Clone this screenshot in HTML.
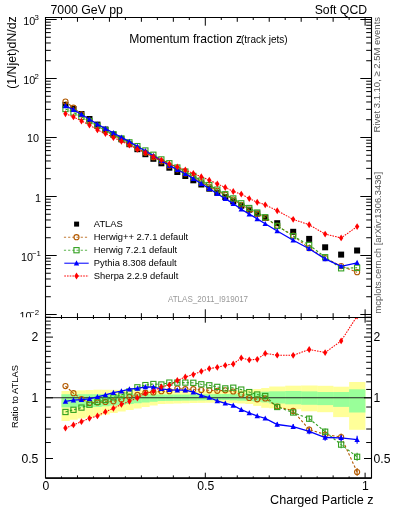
<!DOCTYPE html><html><head><meta charset="utf-8"><style>html,body{margin:0;padding:0;background:#fff;width:393px;height:512px;overflow:hidden}svg{display:block;will-change:transform}text{font-family:"Liberation Sans",sans-serif}</style></head><body>
<svg width="393" height="512" viewBox="0 0 393 512">
<defs><clipPath id="ct"><rect x="45.5" y="17.5" width="326.0" height="300.0"/></clipPath><clipPath id="cr"><rect x="45.5" y="317.5" width="326.0" height="160.39999999999998"/></clipPath></defs>
<rect x="61.48" y="391" width="8.29" height="30" fill="#ffff99"/>
<rect x="69.47" y="390.68" width="8.29" height="29.07" fill="#ffff99"/>
<rect x="77.46" y="390.35" width="8.29" height="28.15" fill="#ffff99"/>
<rect x="85.45" y="390.02" width="8.29" height="27.23" fill="#ffff99"/>
<rect x="93.44" y="389.7" width="8.29" height="26.3" fill="#ffff99"/>
<rect x="101.43" y="389.77" width="8.29" height="24.73" fill="#ffff99"/>
<rect x="109.42" y="389.85" width="8.29" height="23.15" fill="#ffff99"/>
<rect x="117.41" y="389.93" width="8.29" height="21.57" fill="#ffff99"/>
<rect x="125.4" y="390" width="8.29" height="20" fill="#ffff99"/>
<rect x="133.39" y="390.25" width="8.29" height="18.25" fill="#ffff99"/>
<rect x="141.38" y="390.5" width="8.29" height="16.5" fill="#ffff99"/>
<rect x="149.37" y="390.75" width="8.29" height="14.75" fill="#ffff99"/>
<rect x="157.36" y="391" width="8.29" height="13" fill="#ffff99"/>
<rect x="165.35" y="391" width="8.29" height="12.75" fill="#ffff99"/>
<rect x="173.34" y="391" width="8.29" height="12.5" fill="#ffff99"/>
<rect x="181.33" y="391" width="8.29" height="12.25" fill="#ffff99"/>
<rect x="189.32" y="391" width="8.29" height="12" fill="#ffff99"/>
<rect x="197.31" y="391" width="8.29" height="11.88" fill="#ffff99"/>
<rect x="205.3" y="391" width="8.29" height="11.75" fill="#ffff99"/>
<rect x="213.29" y="391" width="8.29" height="11.62" fill="#ffff99"/>
<rect x="221.28" y="391" width="8.29" height="11.5" fill="#ffff99"/>
<rect x="229.27" y="390.67" width="8.29" height="12.33" fill="#ffff99"/>
<rect x="237.26" y="390.33" width="8.29" height="13.17" fill="#ffff99"/>
<rect x="245.25" y="390" width="8.29" height="14" fill="#ffff99"/>
<rect x="253.24" y="389" width="8.29" height="16.9" fill="#ffff99"/>
<rect x="261.23" y="388" width="8.29" height="19.8" fill="#ffff99"/>
<rect x="269.22" y="386.5" width="16.28" height="21.8" fill="#ffff99"/>
<rect x="285.2" y="385.7" width="16.28" height="23.6" fill="#ffff99"/>
<rect x="301.18" y="385.5" width="16.28" height="25.8" fill="#ffff99"/>
<rect x="317.16" y="385.8" width="16.28" height="26.4" fill="#ffff99"/>
<rect x="333.14" y="386.7" width="16.28" height="30.4" fill="#ffff99"/>
<rect x="349.12" y="382" width="16.28" height="47.8" fill="#ffff99"/>
<rect x="61.48" y="394.2" width="8.29" height="13.2" fill="#99ff99"/>
<rect x="69.47" y="394.2" width="8.29" height="13.1" fill="#99ff99"/>
<rect x="77.46" y="394.2" width="8.29" height="13" fill="#99ff99"/>
<rect x="85.45" y="394.2" width="8.29" height="12.9" fill="#99ff99"/>
<rect x="93.44" y="394.2" width="8.29" height="12.8" fill="#99ff99"/>
<rect x="101.43" y="394.15" width="8.29" height="12.1" fill="#99ff99"/>
<rect x="109.42" y="394.1" width="8.29" height="11.4" fill="#99ff99"/>
<rect x="117.41" y="394.05" width="8.29" height="10.7" fill="#99ff99"/>
<rect x="125.4" y="394" width="8.29" height="10" fill="#99ff99"/>
<rect x="133.39" y="394.12" width="8.29" height="9.12" fill="#99ff99"/>
<rect x="141.38" y="394.25" width="8.29" height="8.25" fill="#99ff99"/>
<rect x="149.37" y="394.38" width="8.29" height="7.38" fill="#99ff99"/>
<rect x="157.36" y="394.5" width="8.29" height="6.5" fill="#99ff99"/>
<rect x="165.35" y="394.5" width="8.29" height="6.38" fill="#99ff99"/>
<rect x="173.34" y="394.5" width="8.29" height="6.25" fill="#99ff99"/>
<rect x="181.33" y="394.5" width="8.29" height="6.12" fill="#99ff99"/>
<rect x="189.32" y="394.5" width="8.29" height="6" fill="#99ff99"/>
<rect x="197.31" y="394.38" width="8.29" height="6" fill="#99ff99"/>
<rect x="205.3" y="394.25" width="8.29" height="6" fill="#99ff99"/>
<rect x="213.29" y="394.12" width="8.29" height="6" fill="#99ff99"/>
<rect x="221.28" y="394" width="8.29" height="6" fill="#99ff99"/>
<rect x="229.27" y="393.83" width="8.29" height="6.5" fill="#99ff99"/>
<rect x="237.26" y="393.67" width="8.29" height="7" fill="#99ff99"/>
<rect x="245.25" y="393.5" width="8.29" height="7.5" fill="#99ff99"/>
<rect x="253.24" y="392.6" width="8.29" height="9.1" fill="#99ff99"/>
<rect x="261.23" y="391.7" width="8.29" height="10.7" fill="#99ff99"/>
<rect x="269.22" y="391.3" width="16.28" height="12.2" fill="#99ff99"/>
<rect x="285.2" y="391" width="16.28" height="13.3" fill="#99ff99"/>
<rect x="301.18" y="391.4" width="16.28" height="13.4" fill="#99ff99"/>
<rect x="317.16" y="392" width="16.28" height="13.1" fill="#99ff99"/>
<rect x="333.14" y="392" width="16.28" height="14.9" fill="#99ff99"/>
<rect x="349.12" y="389.3" width="16.28" height="23.2" fill="#99ff99"/>
<line x1="45.5" y1="397.8" x2="371.5" y2="397.8" stroke="#222" stroke-width="1.1"/>
<g clip-path="url(#ct)">
<g><rect x="62.47" y="101.9" width="6" height="6" fill="#000"/><rect x="70.47" y="106" width="6" height="6" fill="#000"/><rect x="78.46" y="111" width="6" height="6" fill="#000"/><rect x="86.45" y="116" width="6" height="6" fill="#000"/><rect x="94.44" y="121.6" width="6" height="6" fill="#000"/><rect x="102.43" y="126.5" width="6" height="6" fill="#000"/><rect x="110.42" y="131.5" width="6" height="6" fill="#000"/><rect x="118.41" y="136.3" width="6" height="6" fill="#000"/><rect x="126.4" y="141.2" width="6" height="6" fill="#000"/><rect x="134.38" y="146.2" width="6" height="6" fill="#000"/><rect x="142.38" y="151.2" width="6" height="6" fill="#000"/><rect x="150.37" y="155.8" width="6" height="6" fill="#000"/><rect x="158.36" y="160.3" width="6" height="6" fill="#000"/><rect x="166.35" y="164.7" width="6" height="6" fill="#000"/><rect x="174.34" y="169" width="6" height="6" fill="#000"/><rect x="182.33" y="173" width="6" height="6" fill="#000"/><rect x="190.32" y="177.3" width="6" height="6" fill="#000"/><rect x="198.31" y="181.5" width="6" height="6" fill="#000"/><rect x="206.29" y="185.7" width="6" height="6" fill="#000"/><rect x="214.29" y="189.8" width="6" height="6" fill="#000"/><rect x="222.28" y="194" width="6" height="6" fill="#000"/><rect x="230.27" y="198.4" width="6" height="6" fill="#000"/><rect x="238.26" y="202.7" width="6" height="6" fill="#000"/><rect x="246.25" y="206.7" width="6" height="6" fill="#000"/><rect x="254.24" y="210.5" width="6" height="6" fill="#000"/><rect x="262.23" y="214.8" width="6" height="6" fill="#000"/><rect x="274.21" y="220.2" width="6" height="6" fill="#000"/><rect x="290.19" y="228.8" width="6" height="6" fill="#000"/><rect x="306.17" y="235.9" width="6" height="6" fill="#000"/><rect x="322.15" y="244.3" width="6" height="6" fill="#000"/><rect x="338.13" y="251.6" width="6" height="6" fill="#000"/><rect x="354.11" y="247.5" width="6" height="6" fill="#000"/></g>
<polyline points="65.47,101.48 73.47,107.65 81.46,114.35 89.45,120.49 97.44,125.98 105.43,130.7 113.42,135.52 121.41,139.77 129.4,143.94 137.38,148.35 145.38,152.71 153.37,157.22 161.36,161.37 169.35,165.77 177.34,169.28 185.33,173.48 193.32,177.78 201.31,182.22 209.29,186.51 217.29,190.75 225.28,194.81 233.27,199.56 241.26,204.73 249.25,209.76 257.24,213.94 265.23,217.98 277.21,225.75 293.19,235.63 309.17,248.2 325.15,258.04 341.13,266.07 357.11,272.21" fill="none" stroke="#b35a00" stroke-width="1.1" stroke-dasharray="2.5,2"/>
<circle cx="65.47" cy="101.48" r="2.55" fill="none" stroke="#b35a00" stroke-width="1.1"/><circle cx="73.47" cy="107.65" r="2.55" fill="none" stroke="#b35a00" stroke-width="1.1"/><circle cx="81.46" cy="114.35" r="2.55" fill="none" stroke="#b35a00" stroke-width="1.1"/><circle cx="89.45" cy="120.49" r="2.55" fill="none" stroke="#b35a00" stroke-width="1.1"/><circle cx="97.44" cy="125.98" r="2.55" fill="none" stroke="#b35a00" stroke-width="1.1"/><circle cx="105.43" cy="130.7" r="2.55" fill="none" stroke="#b35a00" stroke-width="1.1"/><circle cx="113.42" cy="135.52" r="2.55" fill="none" stroke="#b35a00" stroke-width="1.1"/><circle cx="121.41" cy="139.77" r="2.55" fill="none" stroke="#b35a00" stroke-width="1.1"/><circle cx="129.4" cy="143.94" r="2.55" fill="none" stroke="#b35a00" stroke-width="1.1"/><circle cx="137.38" cy="148.35" r="2.55" fill="none" stroke="#b35a00" stroke-width="1.1"/><circle cx="145.38" cy="152.71" r="2.55" fill="none" stroke="#b35a00" stroke-width="1.1"/><circle cx="153.37" cy="157.22" r="2.55" fill="none" stroke="#b35a00" stroke-width="1.1"/><circle cx="161.36" cy="161.37" r="2.55" fill="none" stroke="#b35a00" stroke-width="1.1"/><circle cx="169.35" cy="165.77" r="2.55" fill="none" stroke="#b35a00" stroke-width="1.1"/><circle cx="177.34" cy="169.28" r="2.55" fill="none" stroke="#b35a00" stroke-width="1.1"/><circle cx="185.33" cy="173.48" r="2.55" fill="none" stroke="#b35a00" stroke-width="1.1"/><circle cx="193.32" cy="177.78" r="2.55" fill="none" stroke="#b35a00" stroke-width="1.1"/><circle cx="201.31" cy="182.22" r="2.55" fill="none" stroke="#b35a00" stroke-width="1.1"/><circle cx="209.29" cy="186.51" r="2.55" fill="none" stroke="#b35a00" stroke-width="1.1"/><circle cx="217.29" cy="190.75" r="2.55" fill="none" stroke="#b35a00" stroke-width="1.1"/><circle cx="225.28" cy="194.81" r="2.55" fill="none" stroke="#b35a00" stroke-width="1.1"/><circle cx="233.27" cy="199.56" r="2.55" fill="none" stroke="#b35a00" stroke-width="1.1"/><circle cx="241.26" cy="204.73" r="2.55" fill="none" stroke="#b35a00" stroke-width="1.1"/><circle cx="249.25" cy="209.76" r="2.55" fill="none" stroke="#b35a00" stroke-width="1.1"/><circle cx="257.24" cy="213.94" r="2.55" fill="none" stroke="#b35a00" stroke-width="1.1"/><circle cx="265.23" cy="217.98" r="2.55" fill="none" stroke="#b35a00" stroke-width="1.1"/><circle cx="277.21" cy="225.75" r="2.55" fill="none" stroke="#b35a00" stroke-width="1.1"/><circle cx="293.19" cy="235.63" r="2.55" fill="none" stroke="#b35a00" stroke-width="1.1"/><circle cx="309.17" cy="248.2" r="2.55" fill="none" stroke="#b35a00" stroke-width="1.1"/><circle cx="325.15" cy="258.04" r="2.55" fill="none" stroke="#b35a00" stroke-width="1.1"/><circle cx="341.13" cy="266.07" r="2.55" fill="none" stroke="#b35a00" stroke-width="1.1"/><circle cx="357.11" cy="272.21" r="2.55" fill="none" stroke="#b35a00" stroke-width="1.1"/>
<polyline points="65.47,109.05 73.47,112.51 81.46,116.87 89.45,121.02 97.44,125.8 105.43,130.14 113.42,134.38 121.41,138.45 129.4,142.36 137.38,146.13 145.38,150.48 153.37,154.76 161.36,159.41 169.35,163.25 177.34,167.55 185.33,171.55 193.32,175.91 201.31,180.55 209.29,185.04 217.29,189.61 225.28,194.25 233.27,198.44 241.26,203.3 249.25,208.03 257.24,212.53 265.23,217.27 277.21,225.89 293.19,236.1 309.17,245.02 325.15,257.22 341.13,268.29 357.11,267.76" fill="none" stroke="#33a020" stroke-width="1.1" stroke-dasharray="2.5,2"/>
<rect x="62.87" y="106.45" width="5.2" height="5.2" fill="none" stroke="#33a020" stroke-width="1.1"/><rect x="70.87" y="109.91" width="5.2" height="5.2" fill="none" stroke="#33a020" stroke-width="1.1"/><rect x="78.86" y="114.27" width="5.2" height="5.2" fill="none" stroke="#33a020" stroke-width="1.1"/><rect x="86.85" y="118.42" width="5.2" height="5.2" fill="none" stroke="#33a020" stroke-width="1.1"/><rect x="94.84" y="123.2" width="5.2" height="5.2" fill="none" stroke="#33a020" stroke-width="1.1"/><rect x="102.83" y="127.54" width="5.2" height="5.2" fill="none" stroke="#33a020" stroke-width="1.1"/><rect x="110.82" y="131.78" width="5.2" height="5.2" fill="none" stroke="#33a020" stroke-width="1.1"/><rect x="118.81" y="135.85" width="5.2" height="5.2" fill="none" stroke="#33a020" stroke-width="1.1"/><rect x="126.8" y="139.76" width="5.2" height="5.2" fill="none" stroke="#33a020" stroke-width="1.1"/><rect x="134.78" y="143.53" width="5.2" height="5.2" fill="none" stroke="#33a020" stroke-width="1.1"/><rect x="142.78" y="147.88" width="5.2" height="5.2" fill="none" stroke="#33a020" stroke-width="1.1"/><rect x="150.77" y="152.16" width="5.2" height="5.2" fill="none" stroke="#33a020" stroke-width="1.1"/><rect x="158.76" y="156.81" width="5.2" height="5.2" fill="none" stroke="#33a020" stroke-width="1.1"/><rect x="166.75" y="160.65" width="5.2" height="5.2" fill="none" stroke="#33a020" stroke-width="1.1"/><rect x="174.74" y="164.95" width="5.2" height="5.2" fill="none" stroke="#33a020" stroke-width="1.1"/><rect x="182.73" y="168.95" width="5.2" height="5.2" fill="none" stroke="#33a020" stroke-width="1.1"/><rect x="190.72" y="173.31" width="5.2" height="5.2" fill="none" stroke="#33a020" stroke-width="1.1"/><rect x="198.71" y="177.95" width="5.2" height="5.2" fill="none" stroke="#33a020" stroke-width="1.1"/><rect x="206.69" y="182.44" width="5.2" height="5.2" fill="none" stroke="#33a020" stroke-width="1.1"/><rect x="214.69" y="187.01" width="5.2" height="5.2" fill="none" stroke="#33a020" stroke-width="1.1"/><rect x="222.68" y="191.65" width="5.2" height="5.2" fill="none" stroke="#33a020" stroke-width="1.1"/><rect x="230.67" y="195.84" width="5.2" height="5.2" fill="none" stroke="#33a020" stroke-width="1.1"/><rect x="238.66" y="200.7" width="5.2" height="5.2" fill="none" stroke="#33a020" stroke-width="1.1"/><rect x="246.65" y="205.43" width="5.2" height="5.2" fill="none" stroke="#33a020" stroke-width="1.1"/><rect x="254.64" y="209.93" width="5.2" height="5.2" fill="none" stroke="#33a020" stroke-width="1.1"/><rect x="262.62" y="214.67" width="5.2" height="5.2" fill="none" stroke="#33a020" stroke-width="1.1"/><rect x="274.61" y="223.29" width="5.2" height="5.2" fill="none" stroke="#33a020" stroke-width="1.1"/><rect x="290.59" y="233.5" width="5.2" height="5.2" fill="none" stroke="#33a020" stroke-width="1.1"/><rect x="306.57" y="242.42" width="5.2" height="5.2" fill="none" stroke="#33a020" stroke-width="1.1"/><rect x="322.55" y="254.62" width="5.2" height="5.2" fill="none" stroke="#33a020" stroke-width="1.1"/><rect x="338.53" y="265.69" width="5.2" height="5.2" fill="none" stroke="#33a020" stroke-width="1.1"/><rect x="354.51" y="265.16" width="5.2" height="5.2" fill="none" stroke="#33a020" stroke-width="1.1"/>
<polyline points="65.47,105.95 73.47,109.7 81.46,114.53 89.45,119.29 97.44,124.31 105.43,128.65 113.42,133.01 121.41,137.34 129.4,141.68 137.38,146.45 145.38,151.01 153.37,155.7 161.36,160.67 169.35,165.36 177.34,169.78 185.33,173.78 193.32,178.66 201.31,183.8 209.29,188.61 217.29,193.71 225.28,198.61 233.27,203.62 241.26,209.18 249.25,214.15 257.24,218.83 265.23,223.8 277.21,231.01 293.19,240.23 309.17,248.7 325.15,258.92 341.13,266.3 357.11,262.76" fill="none" stroke="#0000ff" stroke-width="1.3"/>
<path d="M62.77,108.25L68.17,108.25L65.47,103.05Z" fill="#0000ff"/><path d="M70.77,112L76.17,112L73.47,106.8Z" fill="#0000ff"/><path d="M78.76,116.83L84.16,116.83L81.46,111.63Z" fill="#0000ff"/><path d="M86.75,121.59L92.15,121.59L89.45,116.39Z" fill="#0000ff"/><path d="M94.73,126.61L100.14,126.61L97.44,121.41Z" fill="#0000ff"/><path d="M102.73,130.95L108.13,130.95L105.43,125.75Z" fill="#0000ff"/><path d="M110.72,135.31L116.12,135.31L113.42,130.11Z" fill="#0000ff"/><path d="M118.71,139.64L124.11,139.64L121.41,134.44Z" fill="#0000ff"/><path d="M126.7,143.98L132.09,143.98L129.4,138.78Z" fill="#0000ff"/><path d="M134.69,148.75L140.08,148.75L137.38,143.55Z" fill="#0000ff"/><path d="M142.68,153.31L148.07,153.31L145.38,148.11Z" fill="#0000ff"/><path d="M150.67,158L156.06,158L153.37,152.8Z" fill="#0000ff"/><path d="M158.66,162.97L164.06,162.97L161.36,157.77Z" fill="#0000ff"/><path d="M166.65,167.66L172.05,167.66L169.35,162.46Z" fill="#0000ff"/><path d="M174.64,172.08L180.03,172.08L177.34,166.88Z" fill="#0000ff"/><path d="M182.63,176.08L188.03,176.08L185.33,170.88Z" fill="#0000ff"/><path d="M190.62,180.96L196.02,180.96L193.32,175.76Z" fill="#0000ff"/><path d="M198.61,186.1L204.01,186.1L201.31,180.9Z" fill="#0000ff"/><path d="M206.59,190.91L211.99,190.91L209.29,185.71Z" fill="#0000ff"/><path d="M214.59,196.01L219.99,196.01L217.29,190.81Z" fill="#0000ff"/><path d="M222.58,200.91L227.97,200.91L225.28,195.71Z" fill="#0000ff"/><path d="M230.57,205.92L235.97,205.92L233.27,200.72Z" fill="#0000ff"/><path d="M238.56,211.48L243.96,211.48L241.26,206.28Z" fill="#0000ff"/><path d="M246.55,216.45L251.95,216.45L249.25,211.25Z" fill="#0000ff"/><path d="M254.54,221.13L259.94,221.13L257.24,215.93Z" fill="#0000ff"/><path d="M262.53,226.1L267.93,226.1L265.23,220.9Z" fill="#0000ff"/><path d="M274.51,233.31L279.91,233.31L277.21,228.11Z" fill="#0000ff"/><path d="M290.49,242.53L295.89,242.53L293.19,237.33Z" fill="#0000ff"/><path d="M306.47,251L311.87,251L309.17,245.8Z" fill="#0000ff"/><path d="M322.45,261.22L327.85,261.22L325.15,256.02Z" fill="#0000ff"/><path d="M338.43,268.6L343.83,268.6L341.13,263.4Z" fill="#0000ff"/><path d="M354.41,265.06L359.81,265.06L357.11,259.86Z" fill="#0000ff"/>
<polyline points="65.47,113.74 73.47,116.93 81.46,120.99 89.45,125 97.44,129.9 105.43,133.6 113.42,137.57 121.41,141.23 129.4,145.22 137.38,149.26 145.38,152.85 153.37,156.93 161.36,160.08 169.35,163.98 177.34,166.94 185.33,169.91 193.32,173.51 201.31,176.75 209.29,180.16 217.29,183.88 225.28,187.49 233.27,191.51 241.26,194.03 249.25,198.61 257.24,202.23 265.23,204.81 277.21,210.74 293.19,219.36 309.17,224.77 325.15,234.07 341.13,237.95 357.11,226.59" fill="none" stroke="#ff0000" stroke-width="1.05" stroke-dasharray="1.6,1.1"/>
<path d="M65.47,110.34L67.67,113.74L65.47,117.14L63.27,113.74Z" fill="#ff0000"/><path d="M73.47,113.53L75.67,116.93L73.47,120.33L71.27,116.93Z" fill="#ff0000"/><path d="M81.46,117.59L83.66,120.99L81.46,124.39L79.26,120.99Z" fill="#ff0000"/><path d="M89.45,121.6L91.65,125L89.45,128.4L87.25,125Z" fill="#ff0000"/><path d="M97.44,126.5L99.64,129.9L97.44,133.3L95.23,129.9Z" fill="#ff0000"/><path d="M105.43,130.2L107.63,133.6L105.43,137L103.23,133.6Z" fill="#ff0000"/><path d="M113.42,134.17L115.62,137.57L113.42,140.97L111.22,137.57Z" fill="#ff0000"/><path d="M121.41,137.83L123.61,141.23L121.41,144.63L119.21,141.23Z" fill="#ff0000"/><path d="M129.4,141.82L131.59,145.22L129.4,148.62L127.2,145.22Z" fill="#ff0000"/><path d="M137.38,145.86L139.58,149.26L137.38,152.66L135.19,149.26Z" fill="#ff0000"/><path d="M145.38,149.45L147.57,152.85L145.38,156.25L143.18,152.85Z" fill="#ff0000"/><path d="M153.37,153.53L155.56,156.93L153.37,160.33L151.17,156.93Z" fill="#ff0000"/><path d="M161.36,156.68L163.56,160.08L161.36,163.48L159.16,160.08Z" fill="#ff0000"/><path d="M169.35,160.58L171.55,163.98L169.35,167.38L167.15,163.98Z" fill="#ff0000"/><path d="M177.34,163.54L179.53,166.94L177.34,170.34L175.14,166.94Z" fill="#ff0000"/><path d="M185.33,166.51L187.53,169.91L185.33,173.31L183.13,169.91Z" fill="#ff0000"/><path d="M193.32,170.11L195.52,173.51L193.32,176.91L191.12,173.51Z" fill="#ff0000"/><path d="M201.31,173.35L203.51,176.75L201.31,180.15L199.11,176.75Z" fill="#ff0000"/><path d="M209.29,176.76L211.49,180.16L209.29,183.56L207.09,180.16Z" fill="#ff0000"/><path d="M217.29,180.48L219.49,183.88L217.29,187.28L215.09,183.88Z" fill="#ff0000"/><path d="M225.28,184.09L227.47,187.49L225.28,190.89L223.08,187.49Z" fill="#ff0000"/><path d="M233.27,188.11L235.47,191.51L233.27,194.91L231.07,191.51Z" fill="#ff0000"/><path d="M241.26,190.63L243.46,194.03L241.26,197.43L239.06,194.03Z" fill="#ff0000"/><path d="M249.25,195.21L251.45,198.61L249.25,202.01L247.05,198.61Z" fill="#ff0000"/><path d="M257.24,198.83L259.44,202.23L257.24,205.63L255.04,202.23Z" fill="#ff0000"/><path d="M265.23,201.41L267.43,204.81L265.23,208.21L263.03,204.81Z" fill="#ff0000"/><path d="M277.21,207.34L279.41,210.74L277.21,214.14L275.01,210.74Z" fill="#ff0000"/><path d="M293.19,215.96L295.39,219.36L293.19,222.76L290.99,219.36Z" fill="#ff0000"/><path d="M309.17,221.37L311.37,224.77L309.17,228.17L306.97,224.77Z" fill="#ff0000"/><path d="M325.15,230.67L327.35,234.07L325.15,237.47L322.95,234.07Z" fill="#ff0000"/><path d="M341.13,234.55L343.33,237.95L341.13,241.35L338.93,237.95Z" fill="#ff0000"/><path d="M357.11,223.19L359.31,226.59L357.11,229.99L354.91,226.59Z" fill="#ff0000"/>
</g>
<g clip-path="url(#cr)">
<path d="M277.21,404.3V408.7M293.19,408.4V413.4M309.17,426.6V432.6M325.15,431.2V437.8M341.13,433.4V440.6M357.11,468V476" stroke="#b35a00" stroke-width="1.1"/><path d="M277.21,404.8V409.2M293.19,410V415M309.17,415.7V421.7M325.15,428.4V435M341.13,441V448.2M357.11,452.8V460.8" stroke="#33a020" stroke-width="1.1"/><path d="M277.21,422.3V426.7M293.19,424.1V429.1M309.17,428.3V434.3M325.15,434.2V440.8M341.13,434.2V441.4M357.11,435.7V443.7" stroke="#0000ff" stroke-width="1.1"/>
<polyline points="65.47,386.1 73.47,393.2 81.46,399 89.45,402.9 97.44,402.5 105.43,401.9 113.42,401.3 121.41,399.4 129.4,396.9 137.38,394.9 145.38,392.7 153.37,392.4 161.36,391.2 169.35,391.2 177.34,388.5 185.33,389.2 193.32,389.2 201.31,390 209.29,390.3 217.29,390.8 225.28,390.3 233.27,391.5 241.26,394.5 249.25,398 257.24,399.3 265.23,398.4 277.21,406.5 293.19,410.9 309.17,429.6 325.15,434.5 341.13,437 357.11,472" fill="none" stroke="#b35a00" stroke-width="1.1" stroke-dasharray="2.5,2"/>
<circle cx="65.47" cy="386.1" r="2.55" fill="none" stroke="#b35a00" stroke-width="1.1"/><circle cx="73.47" cy="393.2" r="2.55" fill="none" stroke="#b35a00" stroke-width="1.1"/><circle cx="81.46" cy="399" r="2.55" fill="none" stroke="#b35a00" stroke-width="1.1"/><circle cx="89.45" cy="402.9" r="2.55" fill="none" stroke="#b35a00" stroke-width="1.1"/><circle cx="97.44" cy="402.5" r="2.55" fill="none" stroke="#b35a00" stroke-width="1.1"/><circle cx="105.43" cy="401.9" r="2.55" fill="none" stroke="#b35a00" stroke-width="1.1"/><circle cx="113.42" cy="401.3" r="2.55" fill="none" stroke="#b35a00" stroke-width="1.1"/><circle cx="121.41" cy="399.4" r="2.55" fill="none" stroke="#b35a00" stroke-width="1.1"/><circle cx="129.4" cy="396.9" r="2.55" fill="none" stroke="#b35a00" stroke-width="1.1"/><circle cx="137.38" cy="394.9" r="2.55" fill="none" stroke="#b35a00" stroke-width="1.1"/><circle cx="145.38" cy="392.7" r="2.55" fill="none" stroke="#b35a00" stroke-width="1.1"/><circle cx="153.37" cy="392.4" r="2.55" fill="none" stroke="#b35a00" stroke-width="1.1"/><circle cx="161.36" cy="391.2" r="2.55" fill="none" stroke="#b35a00" stroke-width="1.1"/><circle cx="169.35" cy="391.2" r="2.55" fill="none" stroke="#b35a00" stroke-width="1.1"/><circle cx="177.34" cy="388.5" r="2.55" fill="none" stroke="#b35a00" stroke-width="1.1"/><circle cx="185.33" cy="389.2" r="2.55" fill="none" stroke="#b35a00" stroke-width="1.1"/><circle cx="193.32" cy="389.2" r="2.55" fill="none" stroke="#b35a00" stroke-width="1.1"/><circle cx="201.31" cy="390" r="2.55" fill="none" stroke="#b35a00" stroke-width="1.1"/><circle cx="209.29" cy="390.3" r="2.55" fill="none" stroke="#b35a00" stroke-width="1.1"/><circle cx="217.29" cy="390.8" r="2.55" fill="none" stroke="#b35a00" stroke-width="1.1"/><circle cx="225.28" cy="390.3" r="2.55" fill="none" stroke="#b35a00" stroke-width="1.1"/><circle cx="233.27" cy="391.5" r="2.55" fill="none" stroke="#b35a00" stroke-width="1.1"/><circle cx="241.26" cy="394.5" r="2.55" fill="none" stroke="#b35a00" stroke-width="1.1"/><circle cx="249.25" cy="398" r="2.55" fill="none" stroke="#b35a00" stroke-width="1.1"/><circle cx="257.24" cy="399.3" r="2.55" fill="none" stroke="#b35a00" stroke-width="1.1"/><circle cx="265.23" cy="398.4" r="2.55" fill="none" stroke="#b35a00" stroke-width="1.1"/><circle cx="277.21" cy="406.5" r="2.55" fill="none" stroke="#b35a00" stroke-width="1.1"/><circle cx="293.19" cy="410.9" r="2.55" fill="none" stroke="#b35a00" stroke-width="1.1"/><circle cx="309.17" cy="429.6" r="2.55" fill="none" stroke="#b35a00" stroke-width="1.1"/><circle cx="325.15" cy="434.5" r="2.55" fill="none" stroke="#b35a00" stroke-width="1.1"/><circle cx="341.13" cy="437" r="2.55" fill="none" stroke="#b35a00" stroke-width="1.1"/><circle cx="357.11" cy="472" r="2.55" fill="none" stroke="#b35a00" stroke-width="1.1"/>
<polyline points="65.47,412 73.47,409.8 81.46,407.6 89.45,404.7 97.44,401.9 105.43,400 113.42,397.4 121.41,394.9 129.4,391.5 137.38,387.3 145.38,385.1 153.37,384 161.36,384.5 169.35,382.6 177.34,382.6 185.33,382.6 193.32,382.8 201.31,384.3 209.29,385.3 217.29,386.9 225.28,388.4 233.27,387.7 241.26,389.6 249.25,392.1 257.24,394.5 265.23,396 277.21,407 293.19,412.5 309.17,418.7 325.15,431.7 341.13,444.6 357.11,456.8" fill="none" stroke="#33a020" stroke-width="1.1" stroke-dasharray="2.5,2"/>
<rect x="62.87" y="409.4" width="5.2" height="5.2" fill="none" stroke="#33a020" stroke-width="1.1"/><rect x="70.87" y="407.2" width="5.2" height="5.2" fill="none" stroke="#33a020" stroke-width="1.1"/><rect x="78.86" y="405" width="5.2" height="5.2" fill="none" stroke="#33a020" stroke-width="1.1"/><rect x="86.85" y="402.1" width="5.2" height="5.2" fill="none" stroke="#33a020" stroke-width="1.1"/><rect x="94.84" y="399.3" width="5.2" height="5.2" fill="none" stroke="#33a020" stroke-width="1.1"/><rect x="102.83" y="397.4" width="5.2" height="5.2" fill="none" stroke="#33a020" stroke-width="1.1"/><rect x="110.82" y="394.8" width="5.2" height="5.2" fill="none" stroke="#33a020" stroke-width="1.1"/><rect x="118.81" y="392.3" width="5.2" height="5.2" fill="none" stroke="#33a020" stroke-width="1.1"/><rect x="126.8" y="388.9" width="5.2" height="5.2" fill="none" stroke="#33a020" stroke-width="1.1"/><rect x="134.78" y="384.7" width="5.2" height="5.2" fill="none" stroke="#33a020" stroke-width="1.1"/><rect x="142.78" y="382.5" width="5.2" height="5.2" fill="none" stroke="#33a020" stroke-width="1.1"/><rect x="150.77" y="381.4" width="5.2" height="5.2" fill="none" stroke="#33a020" stroke-width="1.1"/><rect x="158.76" y="381.9" width="5.2" height="5.2" fill="none" stroke="#33a020" stroke-width="1.1"/><rect x="166.75" y="380" width="5.2" height="5.2" fill="none" stroke="#33a020" stroke-width="1.1"/><rect x="174.74" y="380" width="5.2" height="5.2" fill="none" stroke="#33a020" stroke-width="1.1"/><rect x="182.73" y="380" width="5.2" height="5.2" fill="none" stroke="#33a020" stroke-width="1.1"/><rect x="190.72" y="380.2" width="5.2" height="5.2" fill="none" stroke="#33a020" stroke-width="1.1"/><rect x="198.71" y="381.7" width="5.2" height="5.2" fill="none" stroke="#33a020" stroke-width="1.1"/><rect x="206.69" y="382.7" width="5.2" height="5.2" fill="none" stroke="#33a020" stroke-width="1.1"/><rect x="214.69" y="384.3" width="5.2" height="5.2" fill="none" stroke="#33a020" stroke-width="1.1"/><rect x="222.68" y="385.8" width="5.2" height="5.2" fill="none" stroke="#33a020" stroke-width="1.1"/><rect x="230.67" y="385.1" width="5.2" height="5.2" fill="none" stroke="#33a020" stroke-width="1.1"/><rect x="238.66" y="387" width="5.2" height="5.2" fill="none" stroke="#33a020" stroke-width="1.1"/><rect x="246.65" y="389.5" width="5.2" height="5.2" fill="none" stroke="#33a020" stroke-width="1.1"/><rect x="254.64" y="391.9" width="5.2" height="5.2" fill="none" stroke="#33a020" stroke-width="1.1"/><rect x="262.62" y="393.4" width="5.2" height="5.2" fill="none" stroke="#33a020" stroke-width="1.1"/><rect x="274.61" y="404.4" width="5.2" height="5.2" fill="none" stroke="#33a020" stroke-width="1.1"/><rect x="290.59" y="409.9" width="5.2" height="5.2" fill="none" stroke="#33a020" stroke-width="1.1"/><rect x="306.57" y="416.1" width="5.2" height="5.2" fill="none" stroke="#33a020" stroke-width="1.1"/><rect x="322.55" y="429.1" width="5.2" height="5.2" fill="none" stroke="#33a020" stroke-width="1.1"/><rect x="338.53" y="442" width="5.2" height="5.2" fill="none" stroke="#33a020" stroke-width="1.1"/><rect x="354.51" y="454.2" width="5.2" height="5.2" fill="none" stroke="#33a020" stroke-width="1.1"/>
<polyline points="65.47,401.4 73.47,400.2 81.46,399.6 89.45,398.8 97.44,396.8 105.43,394.9 113.42,392.7 121.41,391.1 129.4,389.2 137.38,388.4 145.38,386.9 153.37,387.2 161.36,388.8 169.35,389.8 177.34,390.2 185.33,390.2 193.32,392.2 201.31,395.4 209.29,397.5 217.29,400.9 225.28,403.3 233.27,405.4 241.26,409.7 249.25,413 257.24,416 265.23,418.3 277.21,424.5 293.19,426.6 309.17,431.3 325.15,437.5 341.13,437.8 357.11,439.7" fill="none" stroke="#0000ff" stroke-width="1.3"/>
<path d="M62.77,403.7L68.17,403.7L65.47,398.5Z" fill="#0000ff"/><path d="M70.77,402.5L76.17,402.5L73.47,397.3Z" fill="#0000ff"/><path d="M78.76,401.9L84.16,401.9L81.46,396.7Z" fill="#0000ff"/><path d="M86.75,401.1L92.15,401.1L89.45,395.9Z" fill="#0000ff"/><path d="M94.73,399.1L100.14,399.1L97.44,393.9Z" fill="#0000ff"/><path d="M102.73,397.2L108.13,397.2L105.43,392Z" fill="#0000ff"/><path d="M110.72,395L116.12,395L113.42,389.8Z" fill="#0000ff"/><path d="M118.71,393.4L124.11,393.4L121.41,388.2Z" fill="#0000ff"/><path d="M126.7,391.5L132.09,391.5L129.4,386.3Z" fill="#0000ff"/><path d="M134.69,390.7L140.08,390.7L137.38,385.5Z" fill="#0000ff"/><path d="M142.68,389.2L148.07,389.2L145.38,384Z" fill="#0000ff"/><path d="M150.67,389.5L156.06,389.5L153.37,384.3Z" fill="#0000ff"/><path d="M158.66,391.1L164.06,391.1L161.36,385.9Z" fill="#0000ff"/><path d="M166.65,392.1L172.05,392.1L169.35,386.9Z" fill="#0000ff"/><path d="M174.64,392.5L180.03,392.5L177.34,387.3Z" fill="#0000ff"/><path d="M182.63,392.5L188.03,392.5L185.33,387.3Z" fill="#0000ff"/><path d="M190.62,394.5L196.02,394.5L193.32,389.3Z" fill="#0000ff"/><path d="M198.61,397.7L204.01,397.7L201.31,392.5Z" fill="#0000ff"/><path d="M206.59,399.8L211.99,399.8L209.29,394.6Z" fill="#0000ff"/><path d="M214.59,403.2L219.99,403.2L217.29,398Z" fill="#0000ff"/><path d="M222.58,405.6L227.97,405.6L225.28,400.4Z" fill="#0000ff"/><path d="M230.57,407.7L235.97,407.7L233.27,402.5Z" fill="#0000ff"/><path d="M238.56,412L243.96,412L241.26,406.8Z" fill="#0000ff"/><path d="M246.55,415.3L251.95,415.3L249.25,410.1Z" fill="#0000ff"/><path d="M254.54,418.3L259.94,418.3L257.24,413.1Z" fill="#0000ff"/><path d="M262.53,420.6L267.93,420.6L265.23,415.4Z" fill="#0000ff"/><path d="M274.51,426.8L279.91,426.8L277.21,421.6Z" fill="#0000ff"/><path d="M290.49,428.9L295.89,428.9L293.19,423.7Z" fill="#0000ff"/><path d="M306.47,433.6L311.87,433.6L309.17,428.4Z" fill="#0000ff"/><path d="M322.45,439.8L327.85,439.8L325.15,434.6Z" fill="#0000ff"/><path d="M338.43,440.1L343.83,440.1L341.13,434.9Z" fill="#0000ff"/><path d="M354.41,442L359.81,442L357.11,436.8Z" fill="#0000ff"/>
<polyline points="65.47,428 73.47,424.9 81.46,421.7 89.45,418.3 97.44,415.9 105.43,411.8 113.42,408.3 121.41,404.4 129.4,401.3 137.38,398 145.38,393.2 153.37,391.4 161.36,386.8 169.35,385.1 177.34,380.5 185.33,377 193.32,374.6 201.31,371.3 209.29,368.6 217.29,367.3 225.28,365.3 233.27,364 241.26,357.9 249.25,359.9 257.24,359.3 265.23,353.4 277.21,355.2 293.19,355.3 309.17,349.5 325.15,352.6 341.13,340.9 357.11,316.1" fill="none" stroke="#ff0000" stroke-width="1.05" stroke-dasharray="1.6,1.1"/>
<path d="M65.47,424.6L67.67,428L65.47,431.4L63.27,428Z" fill="#ff0000"/><path d="M73.47,421.5L75.67,424.9L73.47,428.3L71.27,424.9Z" fill="#ff0000"/><path d="M81.46,418.3L83.66,421.7L81.46,425.1L79.26,421.7Z" fill="#ff0000"/><path d="M89.45,414.9L91.65,418.3L89.45,421.7L87.25,418.3Z" fill="#ff0000"/><path d="M97.44,412.5L99.64,415.9L97.44,419.3L95.23,415.9Z" fill="#ff0000"/><path d="M105.43,408.4L107.63,411.8L105.43,415.2L103.23,411.8Z" fill="#ff0000"/><path d="M113.42,404.9L115.62,408.3L113.42,411.7L111.22,408.3Z" fill="#ff0000"/><path d="M121.41,401L123.61,404.4L121.41,407.8L119.21,404.4Z" fill="#ff0000"/><path d="M129.4,397.9L131.59,401.3L129.4,404.7L127.2,401.3Z" fill="#ff0000"/><path d="M137.38,394.6L139.58,398L137.38,401.4L135.19,398Z" fill="#ff0000"/><path d="M145.38,389.8L147.57,393.2L145.38,396.6L143.18,393.2Z" fill="#ff0000"/><path d="M153.37,388L155.56,391.4L153.37,394.8L151.17,391.4Z" fill="#ff0000"/><path d="M161.36,383.4L163.56,386.8L161.36,390.2L159.16,386.8Z" fill="#ff0000"/><path d="M169.35,381.7L171.55,385.1L169.35,388.5L167.15,385.1Z" fill="#ff0000"/><path d="M177.34,377.1L179.53,380.5L177.34,383.9L175.14,380.5Z" fill="#ff0000"/><path d="M185.33,373.6L187.53,377L185.33,380.4L183.13,377Z" fill="#ff0000"/><path d="M193.32,371.2L195.52,374.6L193.32,378L191.12,374.6Z" fill="#ff0000"/><path d="M201.31,367.9L203.51,371.3L201.31,374.7L199.11,371.3Z" fill="#ff0000"/><path d="M209.29,365.2L211.49,368.6L209.29,372L207.09,368.6Z" fill="#ff0000"/><path d="M217.29,363.9L219.49,367.3L217.29,370.7L215.09,367.3Z" fill="#ff0000"/><path d="M225.28,361.9L227.47,365.3L225.28,368.7L223.08,365.3Z" fill="#ff0000"/><path d="M233.27,360.6L235.47,364L233.27,367.4L231.07,364Z" fill="#ff0000"/><path d="M241.26,354.5L243.46,357.9L241.26,361.3L239.06,357.9Z" fill="#ff0000"/><path d="M249.25,356.5L251.45,359.9L249.25,363.3L247.05,359.9Z" fill="#ff0000"/><path d="M257.24,355.9L259.44,359.3L257.24,362.7L255.04,359.3Z" fill="#ff0000"/><path d="M265.23,350L267.43,353.4L265.23,356.8L263.03,353.4Z" fill="#ff0000"/><path d="M277.21,351.8L279.41,355.2L277.21,358.6L275.01,355.2Z" fill="#ff0000"/><path d="M293.19,351.9L295.39,355.3L293.19,358.7L290.99,355.3Z" fill="#ff0000"/><path d="M309.17,346.1L311.37,349.5L309.17,352.9L306.97,349.5Z" fill="#ff0000"/><path d="M325.15,349.2L327.35,352.6L325.15,356L322.95,352.6Z" fill="#ff0000"/><path d="M341.13,337.5L343.33,340.9L341.13,344.3L338.93,340.9Z" fill="#ff0000"/><path d="M357.11,312.7L359.31,316.1L357.11,319.5L354.91,316.1Z" fill="#ff0000"/>
</g>
<path d="M45.5,317.2L50.8,317.2M371.5,317.2L366.2,317.2M45.5,314.5L56.7,314.5M371.5,314.5L360.3,314.5M45.5,296.74L50.8,296.74M371.5,296.74L366.2,296.74M45.5,286.35L50.8,286.35M371.5,286.35L366.2,286.35M45.5,278.98L50.8,278.98M371.5,278.98L366.2,278.98M45.5,273.26L50.8,273.26M371.5,273.26L366.2,273.26M45.5,268.59L50.8,268.59M371.5,268.59L366.2,268.59M45.5,264.64L50.8,264.64M371.5,264.64L366.2,264.64M45.5,261.22L50.8,261.22M371.5,261.22L366.2,261.22M45.5,258.2L50.8,258.2M371.5,258.2L366.2,258.2M45.5,255.5L56.7,255.5M371.5,255.5L360.3,255.5M45.5,237.74L50.8,237.74M371.5,237.74L366.2,237.74M45.5,227.35L50.8,227.35M371.5,227.35L366.2,227.35M45.5,219.98L50.8,219.98M371.5,219.98L366.2,219.98M45.5,214.26L50.8,214.26M371.5,214.26L366.2,214.26M45.5,209.59L50.8,209.59M371.5,209.59L366.2,209.59M45.5,205.64L50.8,205.64M371.5,205.64L366.2,205.64M45.5,202.22L50.8,202.22M371.5,202.22L366.2,202.22M45.5,199.2L50.8,199.2M371.5,199.2L366.2,199.2M45.5,196.5L56.7,196.5M371.5,196.5L360.3,196.5M45.5,178.74L50.8,178.74M371.5,178.74L366.2,178.74M45.5,168.35L50.8,168.35M371.5,168.35L366.2,168.35M45.5,160.98L50.8,160.98M371.5,160.98L366.2,160.98M45.5,155.26L50.8,155.26M371.5,155.26L366.2,155.26M45.5,150.59L50.8,150.59M371.5,150.59L366.2,150.59M45.5,146.64L50.8,146.64M371.5,146.64L366.2,146.64M45.5,143.22L50.8,143.22M371.5,143.22L366.2,143.22M45.5,140.2L50.8,140.2M371.5,140.2L366.2,140.2M45.5,137.5L56.7,137.5M371.5,137.5L360.3,137.5M45.5,119.74L50.8,119.74M371.5,119.74L366.2,119.74M45.5,109.35L50.8,109.35M371.5,109.35L366.2,109.35M45.5,101.98L50.8,101.98M371.5,101.98L366.2,101.98M45.5,96.26L50.8,96.26M371.5,96.26L366.2,96.26M45.5,91.59L50.8,91.59M371.5,91.59L366.2,91.59M45.5,87.64L50.8,87.64M371.5,87.64L366.2,87.64M45.5,84.22L50.8,84.22M371.5,84.22L366.2,84.22M45.5,81.2L50.8,81.2M371.5,81.2L366.2,81.2M45.5,78.5L56.7,78.5M371.5,78.5L360.3,78.5M45.5,60.74L50.8,60.74M371.5,60.74L366.2,60.74M45.5,50.35L50.8,50.35M371.5,50.35L366.2,50.35M45.5,42.98L50.8,42.98M371.5,42.98L366.2,42.98M45.5,37.26L50.8,37.26M371.5,37.26L366.2,37.26M45.5,32.59L50.8,32.59M371.5,32.59L366.2,32.59M45.5,28.64L50.8,28.64M371.5,28.64L366.2,28.64M45.5,25.22L50.8,25.22M371.5,25.22L366.2,25.22M45.5,22.2L50.8,22.2M371.5,22.2L366.2,22.2M45.5,19.5L56.7,19.5M371.5,19.5L360.3,19.5M45.5,17.5L45.5,25.7M45.5,317.5L45.5,309.3M45.5,317.5L45.5,322.7M45.5,477.9L45.5,472.7M61.48,17.5L61.48,20M61.48,317.5L61.48,315M61.48,317.5L61.48,319M61.48,477.9L61.48,476.4M77.46,17.5L77.46,21.8M77.46,317.5L77.46,313.2M77.46,317.5L77.46,320M77.46,477.9L77.46,475.4M93.44,17.5L93.44,20M93.44,317.5L93.44,315M93.44,317.5L93.44,319M93.44,477.9L93.44,476.4M109.42,17.5L109.42,21.8M109.42,317.5L109.42,313.2M109.42,317.5L109.42,320M109.42,477.9L109.42,475.4M125.4,17.5L125.4,20M125.4,317.5L125.4,315M125.4,317.5L125.4,319M125.4,477.9L125.4,476.4M141.38,17.5L141.38,21.8M141.38,317.5L141.38,313.2M141.38,317.5L141.38,320M141.38,477.9L141.38,475.4M157.36,17.5L157.36,20M157.36,317.5L157.36,315M157.36,317.5L157.36,319M157.36,477.9L157.36,476.4M173.34,17.5L173.34,21.8M173.34,317.5L173.34,313.2M173.34,317.5L173.34,320M173.34,477.9L173.34,475.4M189.32,17.5L189.32,20M189.32,317.5L189.32,315M189.32,317.5L189.32,319M189.32,477.9L189.32,476.4M205.3,17.5L205.3,25.7M205.3,317.5L205.3,309.3M205.3,317.5L205.3,322.7M205.3,477.9L205.3,472.7M221.28,17.5L221.28,20M221.28,317.5L221.28,315M221.28,317.5L221.28,319M221.28,477.9L221.28,476.4M237.26,17.5L237.26,21.8M237.26,317.5L237.26,313.2M237.26,317.5L237.26,320M237.26,477.9L237.26,475.4M253.24,17.5L253.24,20M253.24,317.5L253.24,315M253.24,317.5L253.24,319M253.24,477.9L253.24,476.4M269.22,17.5L269.22,21.8M269.22,317.5L269.22,313.2M269.22,317.5L269.22,320M269.22,477.9L269.22,475.4M285.2,17.5L285.2,20M285.2,317.5L285.2,315M285.2,317.5L285.2,319M285.2,477.9L285.2,476.4M301.18,17.5L301.18,21.8M301.18,317.5L301.18,313.2M301.18,317.5L301.18,320M301.18,477.9L301.18,475.4M317.16,17.5L317.16,20M317.16,317.5L317.16,315M317.16,317.5L317.16,319M317.16,477.9L317.16,476.4M333.14,17.5L333.14,21.8M333.14,317.5L333.14,313.2M333.14,317.5L333.14,320M333.14,477.9L333.14,475.4M349.12,17.5L349.12,20M349.12,317.5L349.12,315M349.12,317.5L349.12,319M349.12,477.9L349.12,476.4M365.1,17.5L365.1,25.7M365.1,317.5L365.1,309.3M365.1,317.5L365.1,322.7M365.1,477.9L365.1,472.7M45.5,458.5L53,458.5M371.5,458.5L364,458.5M45.5,442.53L50.8,442.53M371.5,442.53L366.2,442.53M45.5,429.03L50.8,429.03M371.5,429.03L366.2,429.03M45.5,417.34L50.8,417.34M371.5,417.34L366.2,417.34M45.5,407.03L50.8,407.03M371.5,407.03L366.2,407.03M45.5,397.8L53,397.8M371.5,397.8L364,397.8M45.5,389.45L50.8,389.45M371.5,389.45L366.2,389.45M45.5,381.83L50.8,381.83M371.5,381.83L366.2,381.83M45.5,374.82L50.8,374.82M371.5,374.82L366.2,374.82M45.5,368.33L50.8,368.33M371.5,368.33L366.2,368.33M45.5,362.29L50.8,362.29M371.5,362.29L366.2,362.29M45.5,356.64L50.8,356.64M371.5,356.64L366.2,356.64M45.5,351.33L50.8,351.33M371.5,351.33L366.2,351.33M45.5,346.33L50.8,346.33M371.5,346.33L366.2,346.33M45.5,341.59L50.8,341.59M371.5,341.59L366.2,341.59M45.5,337.1L53,337.1M371.5,337.1L364,337.1M45.5,332.83L50.8,332.83M371.5,332.83L366.2,332.83M45.5,328.75L50.8,328.75M371.5,328.75L366.2,328.75M45.5,324.86L50.8,324.86M371.5,324.86L366.2,324.86M45.5,321.13L50.8,321.13M371.5,321.13L366.2,321.13M45.5,317.56L50.8,317.56M371.5,317.56L366.2,317.56" stroke="#000" stroke-width="1" fill="none"/>
<path d="M45.5,17.5H371.5V477.9H45.5Z M45.5,317.5H371.5" stroke="#000" stroke-width="1.1" fill="none"/>
<line x1="45.5" y1="478.4" x2="371.5" y2="478.4" stroke="#000" stroke-width="1"/>
<rect x="74.1" y="221.6" width="5" height="5" fill="#000"/>
<line x1="63.9" y1="237.2" x2="88" y2="237.2" stroke="#b35a00" stroke-width="1.1" stroke-dasharray="2.2,2" opacity="0.8"/><circle cx="76.5" cy="237.2" r="2.55" fill="none" stroke="#b35a00" stroke-width="1.1"/>
<line x1="63.9" y1="250.2" x2="88" y2="250.2" stroke="#33a020" stroke-width="1.1" stroke-dasharray="2.2,2" opacity="0.8"/><rect x="73.9" y="247.6" width="5.2" height="5.2" fill="none" stroke="#33a020" stroke-width="1.1"/>
<line x1="64.3" y1="263.25" x2="88.7" y2="263.25" stroke="#0000ff" stroke-width="1.3" opacity="0.8"/><path d="M73.8,265.55L79.2,265.55L76.5,260.35Z" fill="#0000ff"/>
<line x1="64.3" y1="276.0" x2="88.7" y2="276.0" stroke="#ff0000" stroke-width="1.05" stroke-dasharray="1.6,1.1"/><path d="M76.5,272.6L78.7,276L76.5,279.4L74.3,276Z" fill="#ff0000"/>
<text x="93.84" y="227.1" font-size="9.4" fill="#000" >ATLAS</text>
<text x="93.84" y="239.8" font-size="9.4" fill="#000" >Herwig++ 2.7.1 default</text>
<text x="93.84" y="252.8" font-size="9.4" fill="#000" >Herwig 7.2.1 default</text>
<text x="93.84" y="265.8" font-size="9.4" fill="#000" >Pythia 8.308 default</text>
<text x="93.84" y="278.6" font-size="9.4" fill="#000" >Sherpa 2.2.9 default</text>
<text x="50.48" y="14" font-size="12.3" fill="#000" >7000 GeV pp</text>
<text x="0" y="0" font-size="11.9" transform="translate(314.7,13.6) scale(1.03,1)">Soft QCD</text>
<text x="129.13" y="42.6" font-size="12.1" fill="#000" >Momentum fraction z</text>
<text x="241" y="42.8" font-size="10" fill="#000" >(track jets)</text>
<text x="0" y="0" font-size="8.7" fill="#999" transform="translate(167.9,301.9) scale(0.925,1)">ATLAS_2011_I919017</text>
<text x="270.07" y="503.9" font-size="12.6" fill="#000" >Charged Particle z</text>
<text x="0" y="0" font-size="12.3" fill="#000" transform="translate(15.9,88.74) rotate(-90)">(1/Njet)dN/dz</text>
<text x="0" y="0" font-size="9.3" fill="#000" transform="translate(18.1,428.04) rotate(-90)">Ratio to ATLAS</text>
<text x="0" y="0" font-size="9.5" fill="#555" transform="translate(379.8,132.56) rotate(-90)">Rivet 3.1.10, ≥ 2.5M events</text>
<text x="0" y="0" font-size="9.4" fill="#555" transform="translate(380.8,313.56) rotate(-90)">mcplots.cern.ch [arXiv:1306.3436]</text>
<defs><clipPath id="cl"><rect x="0" y="0" width="45.5" height="317.3"/></clipPath></defs><g clip-path="url(#cl)">
<text x="23.14" y="25.06" font-size="10.8">10</text>
<text x="34.51" y="20.11" font-size="7.8">3</text>
<text x="23.34" y="84.06" font-size="10.8">10</text>
<text x="34.61" y="79.11" font-size="7.8">2</text>
<text x="27.04" y="142.46" font-size="10.8">10</text>
<text x="35.04" y="202.06" font-size="10.8">1</text>
<text x="21.04" y="261.06" font-size="10.8">10</text>
<text x="32.01" y="256.11" font-size="7.8">−1</text>
<text x="19.54" y="320.06" font-size="10.8">10</text>
<text x="30.11" y="315.11" font-size="7.8">−2</text>
</g>
<text x="38.4" y="341.4" font-size="12.2" text-anchor="end">2</text>
<text x="373.49" y="341.4" font-size="12.2">2</text>
<text x="38.4" y="402.1" font-size="12.2" text-anchor="end">1</text>
<text x="373.49" y="402.1" font-size="12.2">1</text>
<text x="38.4" y="462.8" font-size="12.2" text-anchor="end">0.5</text>
<text x="373.49" y="462.8" font-size="12.2">0.5</text>
<text x="45.9" y="489.6" font-size="12.2" text-anchor="middle">0</text>
<text x="205.7" y="489.6" font-size="12.2" text-anchor="middle">0.5</text>
<text x="365.5" y="489.6" font-size="12.2" text-anchor="middle">1</text>
</svg></body></html>
